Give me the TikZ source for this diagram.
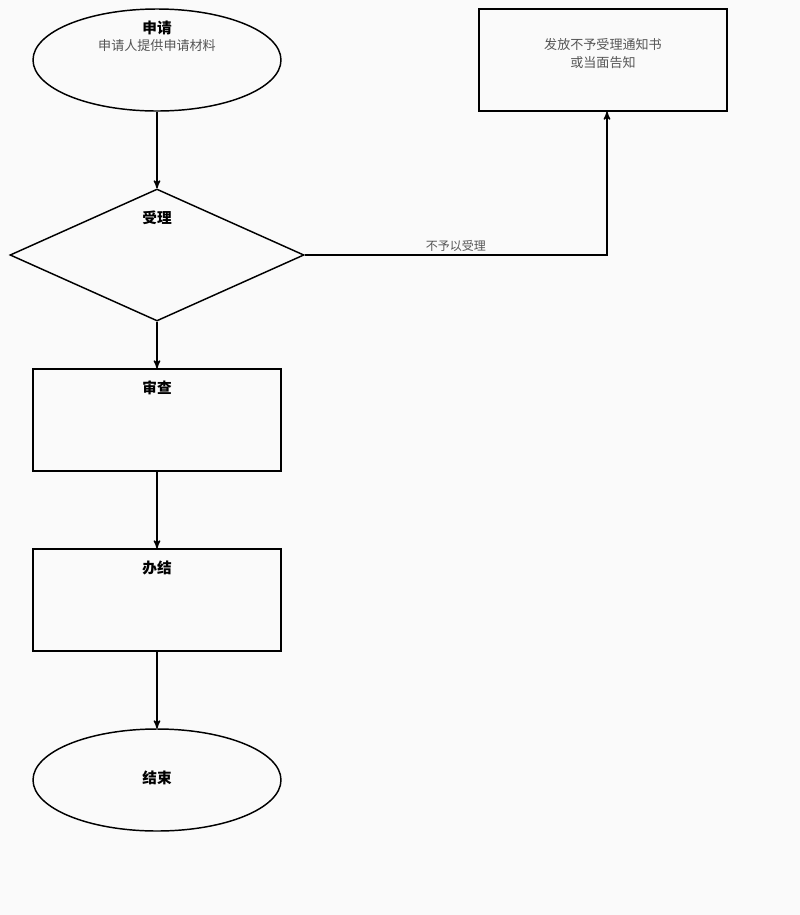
\documentclass[tikz,border=0pt]{standalone}
\usepackage{fontspec}
\newfontfamily\cjk{Noto Sans CJK SC}
\usepackage{tikz}
\usetikzlibrary{arrows,shapes.geometric}
\definecolor{pagebg}{RGB}{250,250,250}
\definecolor{subgray}{RGB}{85,85,85}

\begin{document}
\begin{tikzpicture}[->,>=stealth',x=0.75pt,y=-0.75pt,line width=1.1pt,
  oval node/.style={ellipse,draw,fill=pagebg,inner sep=0pt,minimum width=186pt,minimum height=76.5pt},
  box node/.style={rectangle,draw,fill=pagebg,inner sep=0pt,minimum width=186pt,minimum height=76.5pt},
  check node/.style={diamond,draw,fill=pagebg,inner sep=0pt,minimum width=220.5pt,minimum height=99pt},
  title node/.style={font=\cjk\bfseries\fontsize{11pt}{13pt}\selectfont,inner sep=0pt},
  note node/.style={font=\cjk\fontsize{9.8pt}{13.5pt}\selectfont,text=subgray,inner sep=0pt,align=center}]
  \useasboundingbox[fill=pagebg] (0,0) rectangle (800,915);

  \node[oval node] (apply) at (157,60) {};
  \node[check node] (accept) at (157,255) {};
  \node[box node] (review) at (157,420) {};
  \node[box node] (finish) at (157,600) {};
  \node[oval node] (end) at (157,780) {};
  \node[box node] (notice) at (603,60) {};

  % texts
  \node[title node] (apply t) at (157,28) {申请};
  \node[note node] (apply s) at (157,46) {申请人提供申请材料};
  \node[title node] (accept t) at (157,218) {受理};
  \node[title node] (review t) at (157,388) {审查};
  \node[title node] (finish t) at (157,568) {办结};
  \node[title node] (end t) at (157,778) {结束};
  \node[note node] (notice t) at (603,54) {发放不予受理通知书\\或当面告知};

  \draw (apply) -- (accept);
  \draw (accept) -- (review);
  \draw (review) -- (finish);
  \draw (finish) -- (end);
  \draw (accept.east) -| node[pos=0.25,above=2pt,note node,font=\cjk\fontsize{9pt}{11pt}\selectfont] (refuse) {不予以受理} ([xshift=3pt]notice.south);
\end{tikzpicture}
\end{document}
